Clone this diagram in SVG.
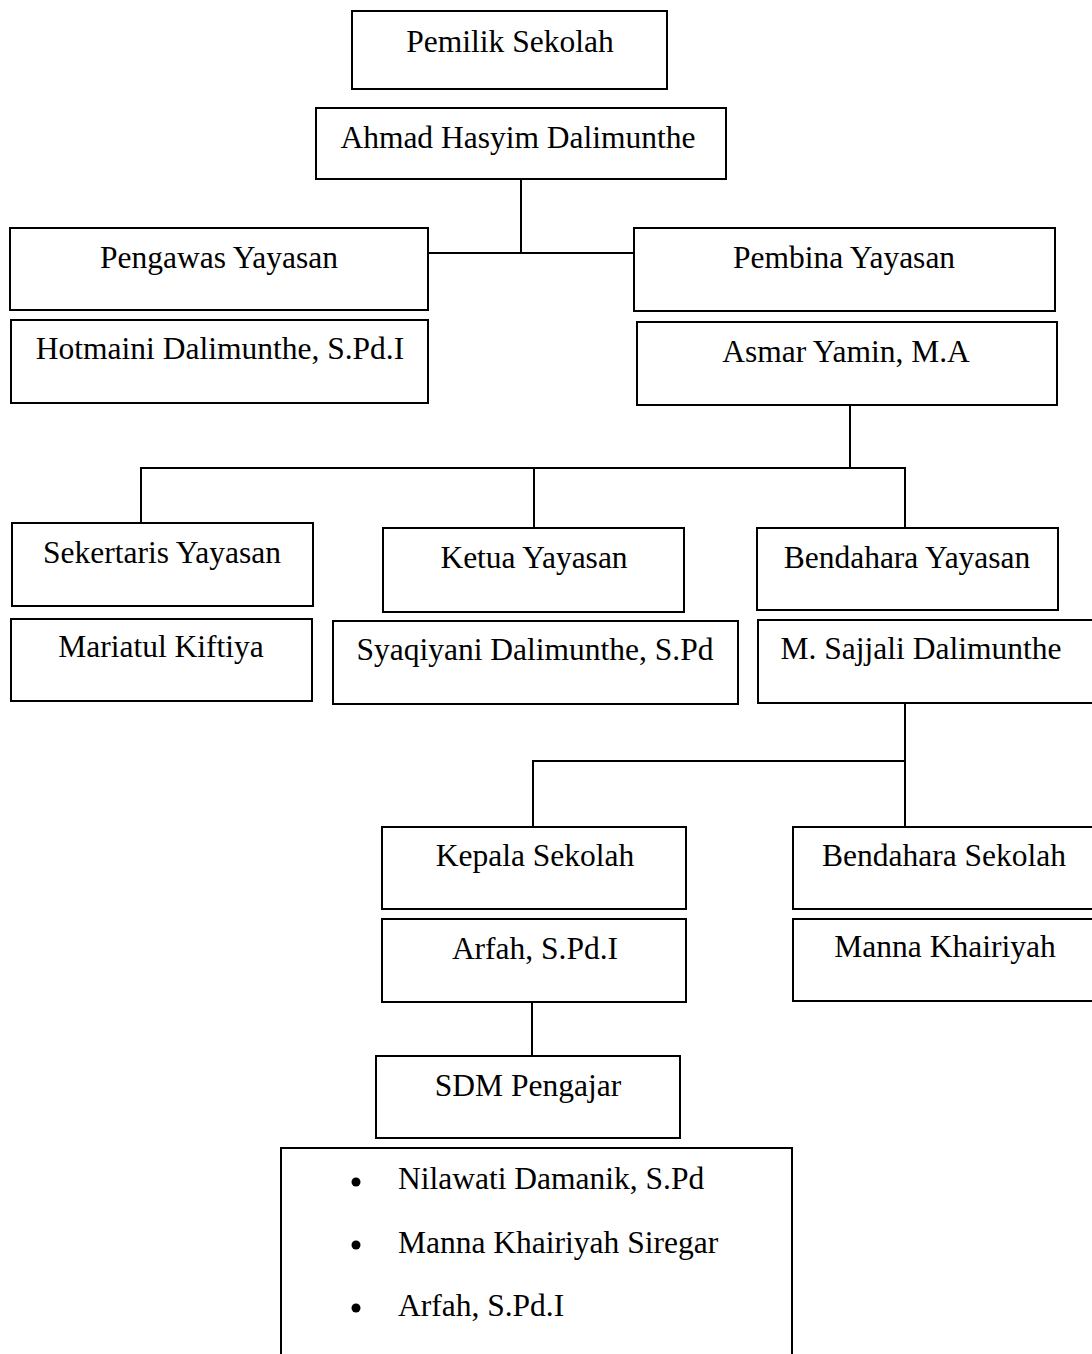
<svg xmlns="http://www.w3.org/2000/svg" width="1092" height="1354" viewBox="0 0 1092 1354">
<style>
rect.b{fill:#fff;stroke:#000;stroke-width:2}
text{font-family:"Liberation Serif","Times New Roman",serif;font-size:31.5px;fill:#000}
text.c{text-anchor:middle}
.conn line{stroke:#000;stroke-width:2}
</style>
<rect width="1092" height="1354" fill="#fff"/>
<g id="connectors" class="conn">
<line x1="521" y1="179" x2="521" y2="253"/>
<line x1="428" y1="253" x2="635" y2="253"/>
<line x1="850" y1="405" x2="850" y2="468"/>
<line x1="141" y1="468" x2="906" y2="468"/>
<line x1="141" y1="467" x2="141" y2="523"/>
<line x1="534" y1="468" x2="534" y2="528"/>
<line x1="905" y1="467" x2="905" y2="528"/>
<line x1="905" y1="703" x2="905" y2="827"/>
<line x1="533" y1="761" x2="906" y2="761"/>
<line x1="533" y1="760" x2="533" y2="827"/>
<line x1="532" y1="1002" x2="532" y2="1056"/>
</g>
<g id="n-pemilik"><rect class="b" x="352" y="11" width="315" height="78"/><text class="c" x="510" y="52">Pemilik Sekolah</text></g>
<g id="n-ahmad"><rect class="b" x="316" y="108" width="410" height="71"/><text class="c" x="518" y="148">Ahmad Hasyim Dalimunthe</text></g>
<g id="n-pengawas"><rect class="b" x="10" y="228" width="418" height="82"/><text class="c" x="219" y="268">Pengawas Yayasan</text></g>
<g id="n-hotmaini"><rect class="b" x="11" y="320" width="417" height="83"/><text class="c" x="220" y="359">Hotmaini Dalimunthe, S.Pd.I</text></g>
<g id="n-pembina"><rect class="b" x="634" y="228" width="421" height="83"/><text class="c" x="844" y="268">Pembina Yayasan</text></g>
<g id="n-asmar"><rect class="b" x="637" y="322" width="420" height="83"/><text class="c" x="846" y="362">Asmar Yamin, M.A</text></g>
<g id="n-sekertaris"><rect class="b" x="12" y="523" width="301" height="83"/><text class="c" x="162" y="563">Sekertaris Yayasan</text></g>
<g id="n-mariatul"><rect class="b" x="11" y="619" width="301" height="82"/><text class="c" x="161" y="657">Mariatul Kiftiya</text></g>
<g id="n-ketua"><rect class="b" x="383" y="528" width="301" height="84"/><text class="c" x="534" y="568">Ketua Yayasan</text></g>
<g id="n-syaqiyani"><rect class="b" x="333" y="621" width="405" height="83"/><text class="c" x="535" y="660">Syaqiyani Dalimunthe, S.Pd</text></g>
<g id="n-bendahara-yayasan"><rect class="b" x="757" y="528" width="301" height="82"/><text class="c" x="907" y="568">Bendahara Yayasan</text></g>
<g id="n-sajjali"><rect class="b" x="758" y="620" width="345" height="83"/><text class="c" x="921" y="659">M. Sajjali Dalimunthe</text></g>
<g id="n-kepala"><rect class="b" x="382" y="827" width="304" height="82"/><text class="c" x="535" y="866">Kepala Sekolah</text></g>
<g id="n-arfah"><rect class="b" x="382" y="919" width="304" height="83"/><text class="c" x="535" y="959">Arfah, S.Pd.I</text></g>
<g id="n-bendahara-sekolah"><rect class="b" x="793" y="827" width="310" height="82"/><text class="c" x="944" y="866">Bendahara Sekolah</text></g>
<g id="n-manna"><rect class="b" x="793" y="919" width="310" height="82"/><text class="c" x="945" y="957">Manna Khairiyah</text></g>
<g id="n-sdm"><rect class="b" x="376" y="1056" width="304" height="82"/><text class="c" x="528" y="1096">SDM Pengajar</text></g>
<g id="n-list">
<rect class="b" x="281" y="1148" width="511" height="220"/>
<circle cx="356" cy="1182" r="4.5"/><text x="398" y="1189">Nilawati Damanik, S.Pd</text>
<circle cx="356" cy="1245" r="4.5"/><text x="398" y="1253">Manna Khairiyah Siregar</text>
<circle cx="356" cy="1308" r="4.5"/><text x="398" y="1316">Arfah, S.Pd.I</text>
</g>
</svg>
